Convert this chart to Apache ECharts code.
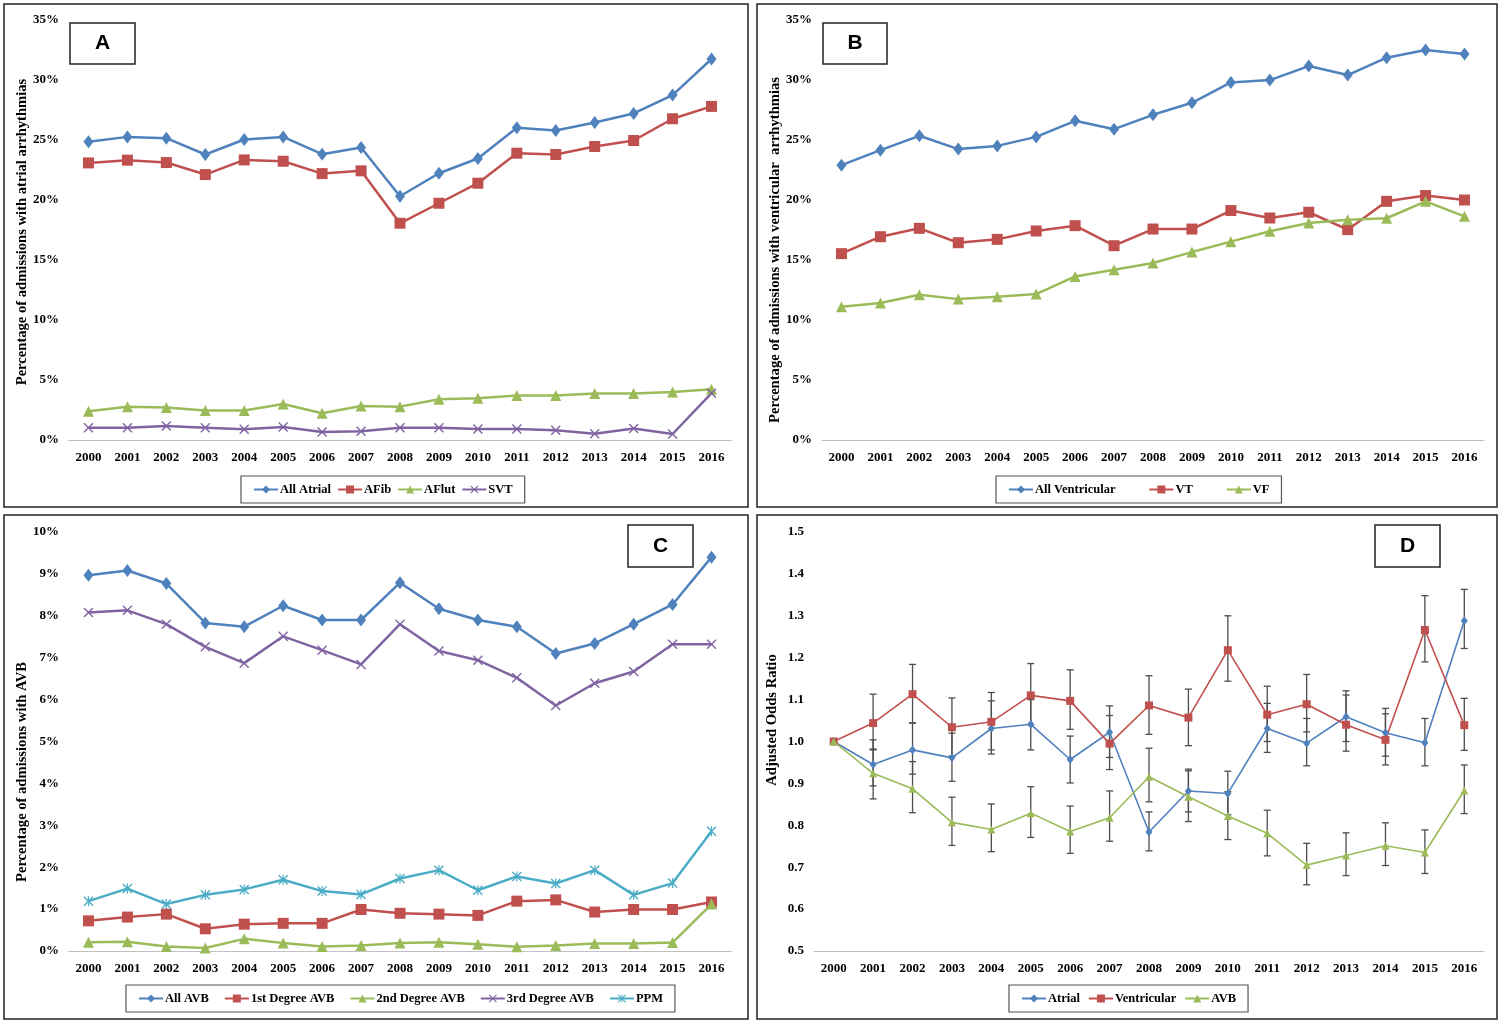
<!DOCTYPE html>
<html>
<head>
<meta charset="utf-8">
<script src="https://cdn.jsdelivr.net/npm/echarts@6/dist/echarts.min.js"></script>
<style>
html,body{margin:0;padding:0;background:#fff;}
#chart{width:1500px;height:1025px;}
</style>
</head>
<body>
<div id="chart"></div>
<script>
// ---------- DATA ----------
const years = ['2000','2001','2002','2003','2004','2005','2006','2007','2008','2009','2010','2011','2012','2013','2014','2015','2016'];

// Panel A (%)
const allAtrial = [24.85,25.26,25.15,23.79,25.04,25.26,23.82,24.37,20.31,22.23,23.46,26.02,25.79,26.46,27.21,28.74,31.75];
const afib      = [23.09,23.32,23.12,22.12,23.34,23.23,22.20,22.43,18.06,19.73,21.40,23.90,23.79,24.46,24.96,26.77,27.80];
const aflut     = [2.39,2.78,2.70,2.45,2.45,3.00,2.23,2.84,2.78,3.39,3.48,3.70,3.70,3.87,3.87,4.00,4.23];
const svt       = [1.03,1.03,1.17,1.03,0.89,1.09,0.67,0.72,1.03,1.03,0.92,0.92,0.81,0.53,0.95,0.50,3.90];

// Panel B (%)
const allVent = [22.90,24.15,25.35,24.24,24.51,25.26,26.60,25.90,27.10,28.10,29.80,29.99,31.16,30.41,31.86,32.50,32.17];
const vt      = [15.53,16.94,17.64,16.44,16.72,17.42,17.86,16.19,17.58,17.58,19.12,18.50,18.98,17.53,19.89,20.37,20.00];
const vf      = [11.10,11.41,12.10,11.74,11.94,12.16,13.63,14.19,14.75,15.66,16.53,17.39,18.09,18.36,18.48,19.89,18.64];

// Panel C (%)
const allAVB = [8.97,9.08,8.77,7.83,7.74,8.24,7.90,7.90,8.79,8.17,7.90,7.74,7.10,7.34,7.80,8.27,9.40];
const avb1   = [0.72,0.81,0.88,0.53,0.64,0.66,0.66,0.99,0.90,0.88,0.85,1.19,1.22,0.93,0.99,0.99,1.17];
const avb2   = [0.21,0.22,0.11,0.07,0.29,0.19,0.11,0.13,0.19,0.21,0.16,0.10,0.13,0.18,0.18,0.20,1.12];
const avb3   = [8.08,8.13,7.80,7.26,6.87,7.51,7.18,6.84,7.80,7.16,6.94,6.52,5.86,6.39,6.67,7.32,7.32];
const ppm    = [1.19,1.49,1.12,1.34,1.47,1.70,1.43,1.35,1.73,1.93,1.45,1.78,1.61,1.93,1.34,1.62,2.86];

// Panel D (adjusted odds ratio with CI)
const orAtrial   = [1.000,0.945,0.980,0.961,1.031,1.041,0.957,1.022,0.784,0.882,0.876,1.031,0.996,1.059,1.021,0.997,1.288];
const orAtrialLo = [1.000,0.894,0.922,0.905,0.970,0.980,0.901,0.962,0.739,0.832,0.825,0.974,0.942,1.000,0.965,0.942,1.222];
const orAtrialHi = [1.000,1.004,1.044,1.020,1.097,1.100,1.013,1.085,0.832,0.934,0.929,1.091,1.055,1.121,1.079,1.055,1.363];
const orVent     = [1.000,1.044,1.113,1.034,1.047,1.110,1.097,0.995,1.086,1.057,1.218,1.064,1.089,1.040,1.004,1.266,1.039];
const orVentLo   = [1.000,0.980,1.044,0.965,0.980,1.040,1.029,0.933,1.017,0.990,1.144,1.000,1.023,0.977,0.944,1.190,0.979];
const orVentHi   = [1.000,1.113,1.184,1.104,1.117,1.186,1.171,1.062,1.157,1.125,1.300,1.132,1.160,1.111,1.066,1.348,1.103];
const orAVB      = [1.000,0.924,0.887,0.807,0.790,0.829,0.785,0.818,0.916,0.868,0.822,0.781,0.705,0.728,0.751,0.735,0.883];
const orAVBLo    = [1.000,0.863,0.830,0.752,0.737,0.771,0.733,0.762,0.856,0.809,0.766,0.727,0.658,0.680,0.704,0.685,0.828];
const orAVBHi    = [1.000,0.982,0.952,0.867,0.851,0.892,0.846,0.882,0.984,0.930,0.880,0.836,0.757,0.782,0.806,0.789,0.944];

// Axis titles
const titleA = 'Percentage of admissions with atrial arrhythmias';
const titleB = 'Percentage of admissions with ventricular  arrhythmias';
const titleC = 'Percentage of admissions with AVB';
const titleD = 'Adjusted Odds Ratio';

// ---------- STYLE ----------
const BLUE='#4F81BD', RED='#C0504D', GREEN='#9BBB59', PURPLE='#8064A2', CYAN='#4BACC6';
const SERIF='"Liberation Serif","Times New Roman",serif';
const SYM_X='path://M0,1L1,0L5,4L9,0L10,1L6,5L10,9L9,10L5,6L1,10L0,9L4,5Z';
const SYM_STAR='path://M0,1L1,0L5,4L9,0L10,1L6,5L10,9L9,10L5,6L1,10L0,9L4,5Z M4.4,0L5.6,0L5.6,10L4.4,10Z';

const chart = echarts.init(document.getElementById('chart'), null, {renderer:'canvas'});

const grids = [
  {left:69,  top:20,  width:662, height:420},
  {left:822, top:20,  width:662, height:420},
  {left:69,  top:532, width:662, height:419},
  {left:814, top:532, width:670, height:419}
];

function xAx(i){
  return {type:'category', gridIndex:i, data:years, boundaryGap:true,
    axisLine:{show:true, lineStyle:{color:'#c0c0c0', width:1.2}},
    axisTick:{show:false},
    axisLabel:{color:'#000', fontFamily:SERIF, fontWeight:'bold', fontSize:13, margin:11, interval:0}};
}
function yAx(i, min, max, interval, fmt){
  return {type:'value', gridIndex:i, min:min, max:max, interval:interval,
    splitLine:{show:false}, axisLine:{show:false}, axisTick:{show:false},
    axisLabel:{color:'#000', fontFamily:SERIF, fontWeight:'bold', fontSize:13, margin:10, formatter:fmt}};
}
function pct(v){ return Math.round(v) + '%'; }

function line(name, data, gi, color, symbol, size, lw){
  return {name:name, type:'line', xAxisIndex:gi, yAxisIndex:gi, data:data,
    symbol:symbol, symbolSize:size, showSymbol:true,
    lineStyle:{color:color, width:lw}, itemStyle:{color:color},
    emphasis:{disabled:true}, z:3, animation:false};
}
function errBars(name, lo, hi, gi){
  return {name:name, type:'custom', xAxisIndex:gi, yAxisIndex:gi,
    data: years.map((y,i)=>[i, lo[i], hi[i]]),
    renderItem:function(params, api){
      const l = api.value(1), h = api.value(2);
      if (l === h) return null;
      const p1 = api.coord([api.value(0), l]);
      const p2 = api.coord([api.value(0), h]);
      const w = 3.5, st = {stroke:'#4d4d4d', lineWidth:1.3};
      return {type:'group', children:[
        {type:'line', shape:{x1:p1[0], y1:p1[1], x2:p2[0], y2:p2[1]}, style:st},
        {type:'line', shape:{x1:p1[0]-w, y1:p1[1], x2:p1[0]+w, y2:p1[1]}, style:st},
        {type:'line', shape:{x1:p2[0]-w, y1:p2[1], x2:p2[0]+w, y2:p2[1]}, style:st}
      ]};
    }, z:2, animation:false, silent:true};
}

function legend(names, left, top, gap){
  return {data:names, left:left, top:top, orient:'horizontal',
    borderColor:'#555', borderWidth:1.2, padding:[7,12,7,12], itemGap:gap,
    itemWidth:24, itemHeight:10, selectedMode:false,
    textStyle:{color:'#000', fontFamily:SERIF, fontWeight:'bold', fontSize:12.5, padding:[0,0,0,-3]}};
}

function panelRect(x,y,w,h){
  return {type:'rect', shape:{x:x, y:y, width:w, height:h}, style:{fill:'none', stroke:'#222', lineWidth:1.5}, silent:true, z:0};
}
function letterBox(x,y,w,h,t){
  return {type:'group', children:[
    {type:'rect', shape:{x:x, y:y, width:w, height:h}, style:{fill:'#fff', stroke:'#222', lineWidth:1.5}},
    {type:'text', style:{text:t, x:x+w/2, y:y+h/2, align:'center', verticalAlign:'middle',
      font:'bold 21px "Liberation Sans", Arial, sans-serif', fill:'#000'}}
  ], z:10, silent:true};
}
function axisTitle(t, cx, cy){
  return {type:'text', x:cx, y:cy, rotation:Math.PI/2, silent:true, z:10,
    style:{text:t, align:'center', verticalAlign:'middle',
      font:'bold 14.6px "Liberation Serif","Times New Roman",serif', fill:'#000'}};
}

const option = {
  backgroundColor:'#fff',
  animation:false,
  grid: grids,
  xAxis: [xAx(0), xAx(1), xAx(2), xAx(3)],
  yAxis: [
    yAx(0, 0, 35, 5, pct),
    yAx(1, 0, 35, 5, pct),
    yAx(2, 0, 10, 1, pct),
    yAx(3, 0.5, 1.5, 0.1, v=>v.toFixed(1))
  ],
  legend: [
    legend(['All Atrial','AFib','AFlut','SVT'], 241, 476, 6),
    legend(['All Ventricular','VT','VF'], 996, 476, 33),
    legend(['All AVB','1st Degree AVB','2nd Degree AVB','3rd Degree AVB','PPM'], 126, 985, 15),
    legend(['Atrial','Ventricular','AVB'], 1009, 985, 8)
  ],
  series: [
    line('All Atrial', allAtrial, 0, BLUE, 'diamond', [10,13], 2.5),
    line('AFib', afib, 0, RED, 'rect', 11, 2.5),
    line('AFlut', aflut, 0, GREEN, 'triangle', 11, 2.5),
    line('SVT', svt, 0, PURPLE, SYM_X, 10, 2.5),

    line('All Ventricular', allVent, 1, BLUE, 'diamond', [10,13], 2.5),
    line('VT', vt, 1, RED, 'rect', 11, 2.5),
    line('VF', vf, 1, GREEN, 'triangle', 11, 2.5),

    line('All AVB', allAVB, 2, BLUE, 'diamond', [10,13], 2.5),
    line('1st Degree AVB', avb1, 2, RED, 'rect', 11, 2.5),
    line('2nd Degree AVB', avb2, 2, GREEN, 'triangle', 11, 2.5),
    line('3rd Degree AVB', avb3, 2, PURPLE, SYM_X, 10, 2.5),
    line('PPM', ppm, 2, CYAN, SYM_STAR, 10, 2.5),

    errBars('atrialCI', orAtrialLo, orAtrialHi, 3),
    errBars('ventCI', orVentLo, orVentHi, 3),
    errBars('avbCI', orAVBLo, orAVBHi, 3),
    line('Atrial', orAtrial, 3, BLUE, 'diamond', [7,9], 1.6),
    line('Ventricular', orVent, 3, RED, 'rect', 8, 1.6),
    line('AVB', orAVB, 3, GREEN, 'triangle', 8, 1.6)
  ],
  graphic: [
    panelRect(4,4,744,503),
    panelRect(757,4,740,503),
    panelRect(4,515,744,504),
    panelRect(757,515,740,504),
    letterBox(70,23,65,41,'A'),
    letterBox(823,23,64,41,'B'),
    letterBox(628,525,65,42,'C'),
    letterBox(1375,525,65,42,'D'),
    axisTitle(titleA, 22, 232),
    axisTitle(titleB, 775, 250),
    axisTitle(titleC, 22, 772),
    axisTitle(titleD, 772, 720)
  ]
};
chart.setOption(option);
</script>
</body>
</html>
